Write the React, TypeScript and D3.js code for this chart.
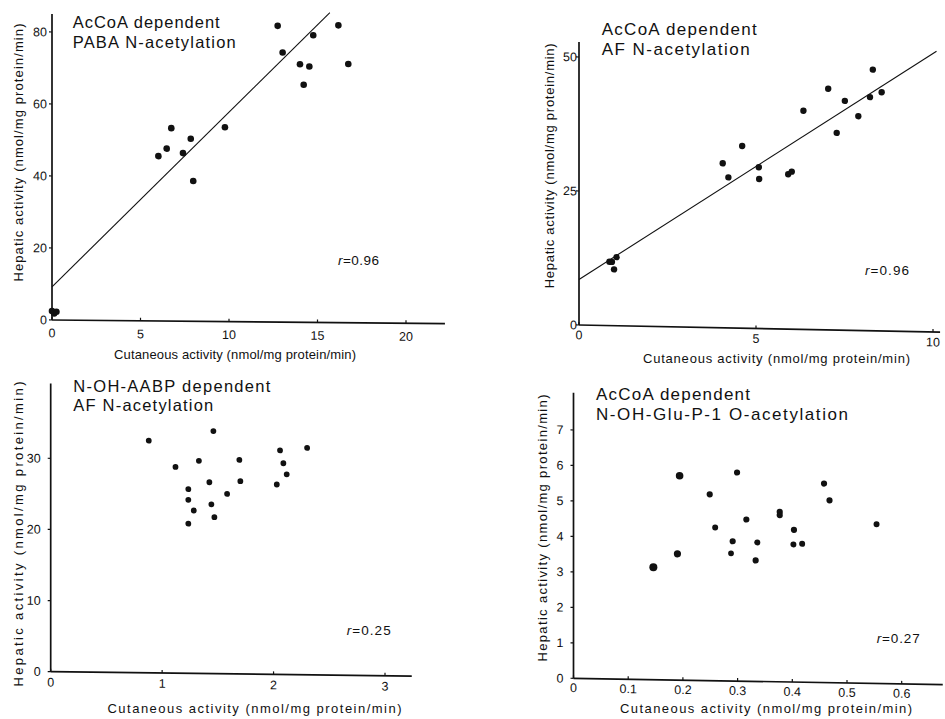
import React from 'react';
import * as d3 from 'd3';

const FONT = '"Liberation Sans", Arial, Helvetica, sans-serif';

// ---- Panel A: AcCoA dependent PABA N-acetylation ----
const pabaCutaneous = [0.0, 0.12, 0.25, 6.01, 6.48, 6.74, 7.4, 7.84, 7.98, 9.77, 12.75, 13.03, 14.01, 14.22, 14.54, 14.76, 16.18, 16.74];
const pabaHepatic = [2.5, 1.8, 2.3, 45.8, 47.9, 53.6, 46.7, 50.7, 39.0, 54.0, 82.3, 74.9, 71.7, 66.0, 71.1, 79.8, 82.6, 71.9];
const pabaFit: [number, number][] = [[0, 9.2], [15.7, 86.1]];
const pabaXTicks = [0, 5, 10, 15, 20];
const pabaYTicks = [0, 20, 40, 60, 80];

// ---- Panel B: AcCoA dependent AF N-acetylation ----
const afCutaneous = [0.86, 0.93, 0.99, 1.06, 4.06, 4.22, 4.61, 5.08, 5.09, 5.91, 6.01, 6.34, 7.04, 7.28, 7.51, 7.89, 8.22, 8.3, 8.55];
const afHepatic = [11.9, 11.9, 10.5, 12.8, 30.7, 28.1, 34.0, 30.1, 27.9, 28.9, 29.4, 40.8, 45.0, 36.8, 42.8, 40.0, 43.6, 48.75, 44.55];
const afFit: [number, number][] = [[0, 8.5], [10.1, 52.4]];
const afXTicks = [0, 5, 10];
const afYTicks = [0, 25, 50];

// ---- Panel C: N-OH-AABP dependent AF N-acetylation ----
const aabpCutaneous = [0.88, 1.12, 1.235, 1.235, 1.235, 1.284, 1.33, 1.424, 1.442, 1.46, 1.469, 1.583, 1.693, 1.702, 2.029, 2.058, 2.088, 2.118, 2.301];
const aabpHepatic = [32.65, 29.0, 25.9, 24.4, 21.05, 22.9, 29.9, 26.9, 23.8, 34.1, 22.0, 25.3, 30.1, 27.1, 26.7, 31.5, 29.7, 28.15, 31.9];
const aabpXTicks = [0, 1, 2, 3];
const aabpYTicks = [0, 10, 20, 30];

// ---- Panel D: AcCoA dependent N-OH-Glu-P-1 O-acetylation ----
const gluCutaneous = [0.146, 0.19, 0.194, 0.249, 0.259, 0.288, 0.291, 0.299, 0.316, 0.333, 0.336, 0.377, 0.377, 0.402, 0.403, 0.418, 0.458, 0.468, 0.554];
const gluHepatic = [3.17, 3.56, 5.76, 5.25, 4.32, 3.6, 3.94, 5.88, 4.56, 3.41, 3.92, 4.79, 4.7, 3.88, 4.29, 3.9, 5.61, 5.14, 4.49];
const gluDotSize = [4, 3.6, 3.8, 3.1, 3.0, 2.9, 3.1, 3.1, 3.1, 3.1, 3.0, 3.1, 3.1, 3.0, 3.1, 3.0, 3.1, 3.1, 3.0];
const gluXTicks = [0, 0.1, 0.2, 0.3, 0.4, 0.5, 0.6];
const gluYTicks = [0, 1, 2, 3, 4, 5, 6, 7];

const X_TITLE = 'Cutaneous activity (nmol/mg protein/min)';
const Y_TITLE = 'Hepatic activity (nmol/mg protein/min)';

type PanelProps = {
  x0: number; y0: number; xPx: number; yPx: number;
  xMax: number; yMax: number;
  xAxisTo: number; yAxisTo: number;
  tilt: number;
  xTicks: number[]; yTicks: number[];
  xFmt?: (v: number) => string;
  xs: number[]; ys: number[];
  r: number | number[];
  fit?: [number, number][];
  yLabelGap: number; xLabelDy: number; tickFont: number;
};

function Panel(p: PanelProps) {
  const x = d3.scaleLinear().domain([0, p.xMax]).range([p.x0, p.xPx]);
  const y = d3.scaleLinear().domain([0, p.yMax]).range([p.y0, p.yPx]);
  const line = d3.line<[number, number]>().x(d => x(d[0])).y(d => y(d[1]));
  const fmt = p.xFmt ?? ((v: number) => String(v));
  const ink = '#111';
  return (
    <g transform={`matrix(1, ${p.tilt}, 0, 1, 0, ${-p.tilt * p.x0})`}>
      {/* axes */}
      <line x1={x(0)} x2={x(p.xAxisTo)} y1={y(0)} y2={y(0)} stroke={ink} strokeWidth={1.7} />
      <line x1={x(0)} x2={x(0)} y1={y(0)} y2={y(p.yAxisTo)} stroke={ink} strokeWidth={1.7} />
      {p.yTicks.map(t => (
        <g key={'y' + t}>
          <line x1={x(0) - 3} x2={x(0)} y1={y(t)} y2={y(t)} stroke={ink} strokeWidth={1.2} />
          <text x={x(0) - p.yLabelGap} y={y(t)} dy="0.35em" textAnchor="end"
            fontSize={p.tickFont} fontFamily={FONT} fill={ink}>{t}</text>
        </g>
      ))}
      {p.xTicks.map(t => (
        <g key={'x' + t}>
          <line x1={x(t)} x2={x(t)} y1={y(0)} y2={y(0) - 3} stroke={ink} strokeWidth={1.2} />
          <text x={x(t)} y={y(0) + p.xLabelDy} dy="0.35em" textAnchor="middle"
            fontSize={p.tickFont} fontFamily={FONT} fill={ink}>{fmt(t)}</text>
        </g>
      ))}
      {p.fit && <path d={line(p.fit) ?? ''} fill="none" stroke={ink} strokeWidth={1.1} />}
      {p.xs.map((v, i) => (
        <circle key={i} cx={x(v)} cy={y(p.ys[i])}
          r={Array.isArray(p.r) ? p.r[i] : p.r} fill={ink} />
      ))}
    </g>
  );
}

function Title({ x, y, lines, widths, size }: { x: number; y: number; lines: string[]; widths: number[]; size: number }) {
  return (
    <g fontFamily={FONT} fontSize={size} fill="#111">
      {lines.map((l, i) => (
        <text key={i} x={x} y={y + i * 19.5} textLength={widths[i]}>{l}</text>
      ))}
    </g>
  );
}

function RLabel({ x, y, value, width }: { x: number; y: number; value: string; width: number }) {
  return (
    <text x={x} y={y} dy="0.35em" fontFamily={FONT} fontSize={13.5} fill="#111" textLength={width}>
      <tspan fontStyle="italic">r</tspan>={value}
    </text>
  );
}

function XTitle({ cx, cy, width }: { cx: number; cy: number; width: number }) {
  return (
    <text x={cx - width / 2} y={cy} dy="0.35em" fontFamily={FONT} fontSize={13} fill="#111"
      textLength={width}>{X_TITLE}</text>
  );
}

function YTitle({ cx, cy, length }: { cx: number; cy: number; length: number }) {
  return (
    <text transform={`translate(${cx},${cy}) rotate(-90)`} x={-length / 2} y={0} dy="0.35em"
      fontFamily={FONT} fontSize={13} fill="#111" textLength={length}>{Y_TITLE}</text>
  );
}

export default function App() {
  return (
    <svg width={945} height={719} viewBox="0 0 945 719"
      style={{ position: 'absolute', left: 0, top: 0, background: '#fff' }}>
      <rect width={945} height={719} fill="#fff" />

      {/* top left */}
      <Panel x0={52} y0={320} xPx={406} yPx={32} xMax={20} yMax={80}
        xAxisTo={22.2} yAxisTo={85} tilt={0.0094}
        xTicks={pabaXTicks} yTicks={pabaYTicks}
        xs={pabaCutaneous} ys={pabaHepatic} r={3.3} fit={pabaFit}
        yLabelGap={5} xLabelDy={13} tickFont={12.5} />
      <Title x={72.7} y={28} lines={['AcCoA dependent', 'PABA N-acetylation']} widths={[147, 163]} size={16.5} />
      <RLabel x={338} y={260} value="0.96" width={41} />
      <XTitle cx={235} cy={354} width={242} />
      <YTitle cx={18.7} cy={152.5} length={258} />

      {/* top right */}
      <Panel x0={579} y0={325} xPx={933} yPx={57} xMax={10} yMax={50}
        xAxisTo={10.2} yAxisTo={52.8} tilt={0.02}
        xTicks={afXTicks} yTicks={afYTicks}
        xs={afCutaneous} ys={afHepatic} r={3.2} fit={afFit}
        yLabelGap={2} xLabelDy={10} tickFont={12.5} />
      <Title x={601.7} y={35} lines={['AcCoA dependent', 'AF N-acetylation']} widths={[155, 148]} size={17} />
      <RLabel x={865} y={270.7} value="0.96" width={44} />
      <XTitle cx={776.5} cy={358} width={267} />
      <YTitle cx={549.5} cy={165.8} length={245} />

      {/* bottom left */}
      <Panel x0={50.7} y0={671.7} xPx={385} yPx={458.3} xMax={3} yMax={30}
        xAxisTo={3.24} yAxisTo={40.5} tilt={0.012}
        xTicks={aabpXTicks} yTicks={aabpYTicks}
        xs={aabpCutaneous} ys={aabpHepatic} r={2.9}
        yLabelGap={10} xLabelDy={10.5} tickFont={12.5} />
      <Title x={73.3} y={391.7} lines={['N-OH-AABP dependent', 'AF N-acetylation']} widths={[197, 140]} size={16.5} />
      <RLabel x={346.7} y={630.7} value="0.25" width={44} />
      <XTitle cx={254.5} cy={708.3} width={294} />
      <YTitle cx={18.5} cy={534} length={305} />

      {/* bottom right */}
      <Panel x0={573.5} y0={678.3} xPx={901.7} yPx={430} xMax={0.6} yMax={7}
        xAxisTo={0.675} yAxisTo={8.05} tilt={0.017}
        xTicks={gluXTicks} yTicks={gluYTicks} xFmt={d3.format('~g')}
        xs={gluCutaneous} ys={gluHepatic} r={gluDotSize}
        yLabelGap={10} xLabelDy={9.5} tickFont={12.5} />
      <Title x={596} y={400} lines={['AcCoA dependent', 'N-OH-Glu-P-1 O-acetylation']} widths={[154, 252]} size={17} />
      <RLabel x={876.7} y={638.3} value="0.27" width={43} />
      <XTitle cx={766} cy={708.3} width={292} />
      <YTitle cx={542} cy={528} length={267} />
    </svg>
  );
}
